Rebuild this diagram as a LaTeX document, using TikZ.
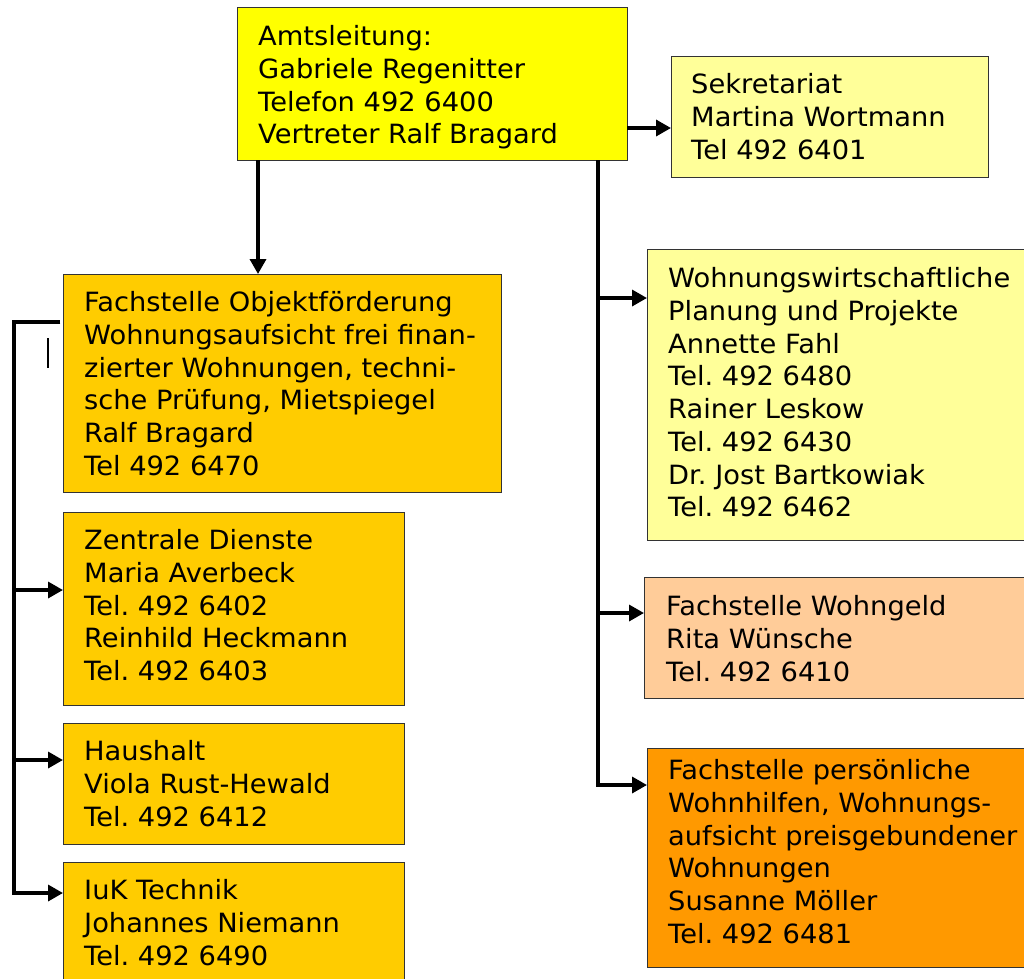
\documentclass[tikz,border=0pt]{standalone}
\usepackage{fontspec}
\setmainfont{DejaVu Sans}[FakeStretch=1.03]
\usetikzlibrary{arrows.meta}
\definecolor{cYellow}{HTML}{FFFF00}
\definecolor{cLight}{HTML}{FFFF99}
\definecolor{cGold}{HTML}{FFCC00}
\definecolor{cPeach}{HTML}{FFCC99}
\definecolor{cOrange}{HTML}{FF9900}
\frenchspacing
\begin{document}
\begin{tikzpicture}[x=1pt,y=-1pt,
  box/.style={draw=black!80, line width=1pt, anchor=north west, inner sep=0pt, outer sep=0pt},
  txt/.style={anchor=north west, inner sep=0pt, align=left, font={\fontsize{26.5}{32.7}\selectfont}},
  conn/.style={line width=3.4pt, draw=black},
  arr/.style={conn, -{Triangle[length=15pt,width=16pt]}}]
\useasboundingbox (0,0) rectangle (1024,978);
% boxes
\node[box, fill=cYellow, minimum width=390pt, minimum height=153pt] (amts) at (237,7) {};
\node[box, fill=cLight, minimum width=317pt, minimum height=121pt] (sek) at (671,56) {};
\node[box, fill=cGold, minimum width=438pt, minimum height=218pt] (obj) at (63,274) {};
\node[box, fill=cGold, minimum width=341pt, minimum height=193pt] (zd) at (63,512) {};
\node[box, fill=cGold, minimum width=341pt, minimum height=121pt] (hh) at (63,723) {};
\node[box, fill=cGold, minimum width=341pt, minimum height=130pt] (iuk) at (63,862) {};
\node[box, fill=cLight, minimum width=390pt, minimum height=291pt] (ww) at (647,249) {};
\node[box, fill=cPeach, minimum width=393pt, minimum height=121pt] (wg) at (644,577) {};
\node[box, fill=cOrange, minimum width=390pt, minimum height=219pt] (pw) at (647,748) {};
% texts
\node[txt] (tamts) at (258,25.5) {Amtsleitung:\\Gabriele Regenitter\\Telefon 492 6400\\Vertreter Ralf Bragard};
\node[txt] (tsek) at (691,73.5) {Sekretariat\\Martina Wortmann\\Tel 492 6401};
\node[txt] (tobj) at (84,291.5) {Fachstelle Objektförderung\\Wohnungsaufsicht frei finan-\\zierter Wohnungen, techni-\\sche Prüfung, Mietspiegel\\Ralf Bragard\\Tel 492 6470};
\node[txt] (tzd) at (84,529.5) {Zentrale Dienste\\Maria Averbeck\\Tel. 492 6402\\Reinhild Heckmann\\Tel. 492 6403};
\node[txt] (thh) at (84,740.5) {Haushalt\\Viola Rust-Hewald\\Tel. 492 6412};
\node[txt] (tiuk) at (84,879.5) {IuK Technik\\Johannes Niemann\\Tel. 492 6490};
\node[txt] (tww) at (668,267.5) {Wohnungswirtschaftliche\\Planung und Projekte\\Annette Fahl\\Tel. 492 6480\\Rainer Leskow\\Tel. 492 6430\\Dr. Jost Bartkowiak\\Tel. 492 6462};
\node[txt] (twg) at (666,595.5) {Fachstelle Wohngeld\\Rita Wünsche\\Tel. 492 6410};
\node[txt] (tpw) at (668,759.5) {Fachstelle persönliche\\Wohnhilfen, Wohnungs-\\aufsicht preisgebundener\\Wohnungen\\Susanne Möller\\Tel. 492 6481};
% connectors
\draw[arr] (amts.east |- 0,128) -- (sek.west |- 0,128);
\draw[arr] (amts.south -| 258,0) -- (obj.north -| 258,0);
\draw[arr] (amts.south -| 598,0) |- (ww.west |- 0,298);
\draw[arr] (amts.south -| 598,0) |- (wg.west |- 0,613);
\draw[arr] (amts.south -| 598,0) |- (pw.west |- 0,785);
\draw[arr] (obj.west |- 0,322) ++(-3,0) -- (14,322) |- (zd.west |- 0,590);
\draw[arr] (obj.west |- 0,322) ++(-3,0) -- (14,322) |- (hh.west |- 0,760);
\draw[arr] (obj.west |- 0,322) ++(-3,0) -- (14,322) |- (iuk.west |- 0,893);
\draw[line width=2.4pt] (48,338) -- (48,368);
\end{tikzpicture}
\end{document}
